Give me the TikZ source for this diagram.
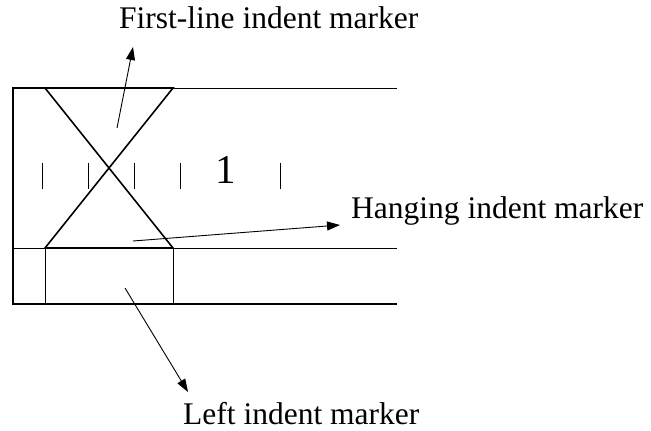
\documentclass[tikz,border=0pt]{standalone}
\usepackage{fontspec}
\setmainfont{Liberation Serif}
\usetikzlibrary{arrows.meta}
\begin{document}
\begin{tikzpicture}[x=1pt,y=-1pt,
  thick line/.style={line width=1.6pt},
  thin line/.style={line width=1pt},
  pointer/.style={line width=0.9pt,-{Triangle[length=13pt,width=9pt]}},
  label/.style={font=\fontsize{31.5}{36}\selectfont,inner sep=0pt,anchor=base west},
  tick/.style={line width=1pt}]
\useasboundingbox (0,0) rectangle (651,431);
% frame
\draw[thin line] (13,88) -- (397,88);
\draw[thin line] (13,248) -- (397,248);
\draw[thick line] (13,304) -- (397,304);
\draw[thick line] (13,87) -- (13,305);
\draw[thick line] (13,88) -- (45,88);
% hourglass
\draw[thick line,line join=miter] (45,88) -- (173,88) -- (45,248) -- (173,248) -- cycle;
% rectangle below
\draw[thin line] (45,248) -- (45,304);
\draw[thin line] (173,248) -- (173,304);
% ticks
\foreach \x in {42,88,134,180,280} \draw[tick] (\x,163) -- (\x,189);
\node[font=\fontsize{41}{45}\selectfont,inner sep=0pt,anchor=base] (one) at (226,183) {1};
% labels
\node[label] (first) at (119,28) {First-line indent marker};
\node[label] (hang) at (351,218) {Hanging indent marker};
\node[label] (left) at (183,424) {Left indent marker};
% pointers
\coordinate (fs) at (117,128);
\coordinate (ft) at (133,47);
\coordinate (hs) at (133,241);
\coordinate (ht) at (340,225);
\coordinate (ls) at (125,288);
\coordinate (lt) at (188,392);
\draw[pointer] (fs) -- (ft);
\draw[pointer] (hs) -- (ht);
\draw[pointer] (ls) -- (lt);
\end{tikzpicture}
\end{document}
